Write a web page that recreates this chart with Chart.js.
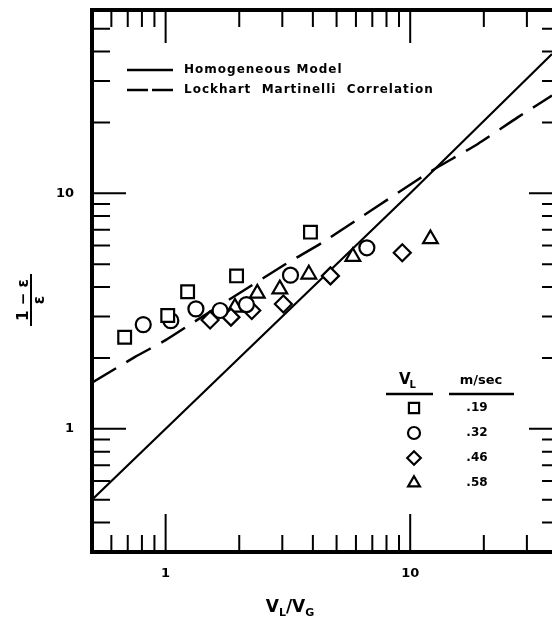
<!DOCTYPE html>
<html>
<head>
<meta charset="utf-8">
<script src="https://cdn.jsdelivr.net/npm/chart.js@4.4.0/dist/chart.umd.min.js"></script>
<style>
  html, body { margin: 0; padding: 0; background: #fff; overflow: hidden; }
  #wrap { width: 552px; height: 626px; }
</style>
</head>
<body>
<div id="wrap"><canvas id="myChart"></canvas></div>
<script>
// x = V_L / V_G , y = (1 - e) / e
const sqX = [0.68, 1.02, 1.23, 1.95, 3.91];
const sqY = [2.45, 3.03, 3.82, 4.46, 6.84];
const ciX = [0.81, 1.05, 1.33, 1.67, 2.14, 3.24, 6.65];
const ciY = [2.77, 2.88, 3.23, 3.18, 3.37, 4.49, 5.87];
const diX = [1.52, 1.85, 2.25, 3.03, 4.72, 9.28];
const diY = [2.90, 2.98, 3.18, 3.39, 4.46, 5.59];
const trX = [1.92, 2.37, 2.93, 3.85, 5.83, 12.1];
const trY = [3.28, 3.76, 3.92, 4.53, 5.38, 6.40];

// model curves
const hmX = [0.5, 10, 38];
const hmY = [0.5, 10, 39];
const lmX = [0.5, 0.75, 1.0, 1.27, 2.03, 3.05, 4.36, 6.06, 9.1, 12.3, 18.9, 27.5, 38];
const lmY = [1.57, 2.02, 2.38, 2.79, 3.80, 4.96, 6.17, 7.72, 10.2, 12.5, 16.2, 21.0, 26.0];

const velocities = ['.19', '.32', '.46', '.58'];
const xTickLabels = [1, 10];
const yTickLabels = [1, 10];

const pts = (xs, ys) => xs.map((x, i) => ({x: x, y: ys[i]}));

function marker(label, xs, ys, style, r) {
  return {
    label: label, data: pts(xs, ys), showLine: false,
    pointStyle: style, pointRadius: r, pointHoverRadius: r,
    pointBorderWidth: 2.2, pointBorderColor: '#000', pointBackgroundColor: '#fff'
  };
}

function isNice(v) {
  const m = v / Math.pow(10, Math.floor(Math.log10(v) + 1e-9));
  return Math.abs(m - Math.round(m)) < 1e-6;
}
function isDecade(v) {
  const e = Math.log10(v);
  return Math.abs(e - Math.round(e)) < 1e-6;
}

const FONT = "'DejaVu Sans', 'Liberation Sans', sans-serif";

const decor = {
  id: 'decor',
  afterDatasetsDraw(chart) {
    const ctx = chart.ctx;
    const a = chart.chartArea;
    const xs = chart.scales.x, ys = chart.scales.y;
    ctx.save();
    ctx.strokeStyle = '#000';
    ctx.fillStyle = '#000';

    // inward ticks
    ctx.lineWidth = 2;
    xs.ticks.forEach(t => {
      if (!isNice(t.value)) return;
      const px = xs.getPixelForValue(t.value);
      if (px < a.left + 4 || px > a.right) return;
      const big = isDecade(t.value);
      ctx.beginPath();
      ctx.moveTo(px, a.bottom); ctx.lineTo(px, a.bottom - (big ? 38 : 17));
      ctx.moveTo(px, a.top); ctx.lineTo(px, a.top + (big ? 33 : 17));
      ctx.stroke();
    });
    ys.ticks.forEach(t => {
      if (!isNice(t.value)) return;
      const py = ys.getPixelForValue(t.value);
      if (py < a.top + 4 || py > a.bottom - 4) return;
      const big = isDecade(t.value);
      ctx.beginPath();
      ctx.moveTo(a.left, py); ctx.lineTo(a.left + (big ? 34 : 18), py);
      ctx.moveTo(a.right + 4, py); ctx.lineTo(a.right + 4 - (big ? 27 : 14), py);
      ctx.stroke();
    });

    // frame
    ctx.lineWidth = 4;
    ctx.beginPath();
    ctx.moveTo(a.right + 2, a.top);
    ctx.lineTo(a.left, a.top);
    ctx.lineTo(a.left, a.bottom);
    ctx.lineTo(a.right + 2, a.bottom);
    ctx.stroke();

    // line legend
    const ds = chart.data.datasets;
    const lines = ds.filter(d => d.showLine);
    ctx.font = 'bold 12px ' + FONT;
    ctx.textBaseline = 'middle';
    ctx.textAlign = 'left';
    lines.forEach((d, i) => {
      const y = 70 + i * 20;
      ctx.lineWidth = 2.5;
      ctx.setLineDash(d.borderDash ? [21, 4] : []);
      ctx.beginPath(); ctx.moveTo(127, y); ctx.lineTo(173, y); ctx.stroke();
      ctx.setLineDash([]);
      ctx.letterSpacing = '1px';
      ctx.fillText(d.label, 184, y);
      ctx.letterSpacing = '0px';
    });

    // velocity table
    const marks = ds.filter(d => !d.showLine);
    ctx.font = 'bold 15px ' + FONT;
    ctx.textBaseline = 'alphabetic';
    ctx.textAlign = 'left';
    const vW = ctx.measureText('V').width;
    ctx.font = 'bold 10px ' + FONT;
    const lW = ctx.measureText('L').width;
    const hx = 408 - (vW + lW) / 2;
    ctx.font = 'bold 15px ' + FONT;
    ctx.fillText('V', hx, 384);
    ctx.font = 'bold 10px ' + FONT;
    ctx.fillText('L', hx + vW - 1, 388);
    ctx.font = 'bold 13px ' + FONT;
    ctx.textAlign = 'center';
    ctx.fillText('m/sec', 481, 384);
    ctx.lineWidth = 2.5;
    ctx.beginPath();
    ctx.moveTo(386, 394); ctx.lineTo(433, 394);
    ctx.moveTo(449, 394); ctx.lineTo(514, 394);
    ctx.stroke();
    ctx.textBaseline = 'middle';
    marks.forEach((d, i) => {
      const y = 408 + i * 25;
      ctx.lineWidth = 2.2;
      ctx.fillStyle = '#fff';
      Chart.helpers.drawPoint(ctx, {pointStyle: d.pointStyle, radius: d.pointRadius * 0.8, rotation: 0, borderWidth: 2.2}, 414, y);
      ctx.fillStyle = '#000';
      ctx.font = 'bold 12px ' + FONT;
      ctx.fillText(velocities[i], 477, y);
    });

    // x title  V_L / V_G
    const parts = [['V', 17, 0], ['L', 11, 4], ['/', 17, 0], ['V', 17, 0], ['G', 11, 4]];
    let tw = 0;
    parts.forEach(p => { ctx.font = 'bold ' + p[1] + 'px ' + FONT; tw += ctx.measureText(p[0]).width; });
    let cx = 290 - tw / 2;
    ctx.textAlign = 'left';
    ctx.textBaseline = 'alphabetic';
    parts.forEach(p => {
      ctx.font = 'bold ' + p[1] + 'px ' + FONT;
      ctx.fillText(p[0], cx, 612 + p[2]);
      cx += ctx.measureText(p[0]).width;
    });

    // y title  (1 - e) / e
    ctx.translate(31, 300);
    ctx.rotate(-Math.PI / 2);
    ctx.textAlign = 'center';
    ctx.font = 'bold 15px ' + FONT;
    ctx.textBaseline = 'alphabetic';
    ctx.fillText('1 \u2212 \u03b5', 0, -3);
    ctx.lineWidth = 2;
    ctx.beginPath(); ctx.moveTo(-26, 0); ctx.lineTo(26, 0); ctx.stroke();
    ctx.textBaseline = 'top';
    ctx.fillText('\u03b5', 0, 2);
    ctx.restore();
  }
};

const tickFont = {family: FONT, size: 13, weight: 'bold'};

// keep the plot box where the reference has it
const noPad = s => { s.paddingLeft = 0; s.paddingRight = 0; s.paddingTop = 0; s.paddingBottom = 0; };

new Chart(document.getElementById('myChart'), {
  type: 'scatter',
  data: {
    datasets: [
      marker('.19', sqX, sqY, 'rect', 9),
      marker('.32', ciX, ciY, 'circle', 7.5),
      marker('.46', diX, diY, 'rectRot', 8.5),
      marker('.58', trX, trY, 'triangle', 8.5),
      {
        label: 'Homogeneous Model', data: pts(hmX, hmY), showLine: true,
        borderColor: '#000', borderWidth: 2.2, pointRadius: 0, tension: 0
      },
      {
        label: 'Lockhart  Martinelli  Correlation', data: pts(lmX, lmY), showLine: true,
        borderColor: '#000', borderWidth: 2.5, borderDash: [28, 12], pointRadius: 0, tension: 0.2
      }
    ]
  },
  options: {
    responsive: true,
    maintainAspectRatio: false,
    animation: false,
    layout: {autoPadding: false, padding: {top: 10, right: 0, left: 0, bottom: 0}},
    plugins: {legend: {display: false}, tooltip: {enabled: false}},
    scales: {
      x: {
        type: 'logarithmic', min: 0.5, max: 38,
        grid: {display: false}, border: {display: false},
        afterFit: s => { s.height = 74; noPad(s); },
        ticks: {
          autoSkip: false, maxRotation: 0, padding: 6, color: '#000', font: tickFont,
          callback: v => xTickLabels.includes(v) ? String(v) : ''
        }
      },
      y: {
        type: 'logarithmic', min: 0.316, max: 60,
        grid: {display: false}, border: {display: false},
        afterFit: s => { s.width = 92; noPad(s); },
        ticks: {
          autoSkip: false, padding: 10, color: '#000', font: tickFont,
          callback: v => yTickLabels.includes(v) ? String(v) : ''
        }
      }
    }
  },
  plugins: [decor]
});
</script>
</body>
</html>
